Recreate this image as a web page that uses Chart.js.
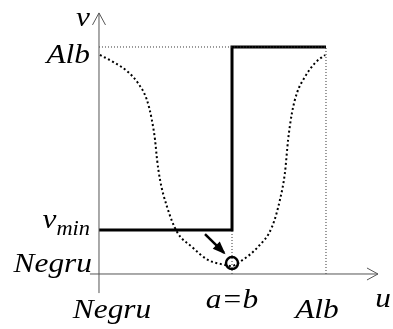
<!DOCTYPE html>
<html>
<head>
<meta charset="utf-8">
<script src="https://cdn.jsdelivr.net/npm/chart.js@4.4.1/dist/chart.umd.min.js"></script>
<style>
  html, body { margin: 0; padding: 0; background: #fff; }
  #c { display: block; }
  .probe { font: italic 28px "Liberation Serif"; position: absolute; left: -999px; }
</style>
</head>
<body>
<span class="probe">Negru Alb</span>
<canvas id="c" width="393" height="329"></canvas>
<script>
/* data (u = input level, v = output level; Negru = 0, Alb = 1) */
const AB = 0.586;      // a = b
const VMIN = 0.194;    // v_min
const ALB = 1;

// transfer step: Negru..a -> v_min, b..Alb -> Alb
const stepU = [0, AB, AB, 1];
const stepV = [VMIN, VMIN, ALB, ALB];

// dotted bell-like curve
const curveU = [0.004, 0.070, 0.128, 0.172, 0.211, 0.233, 0.247, 0.256, 0.269, 0.300, 0.344, 0.410, 0.480, 0.555, 0.586,
                0.612, 0.700, 0.762, 0.797, 0.819, 0.833, 0.850, 0.872, 0.907, 0.952, 0.996];
const curveV = [0.965, 0.930, 0.890, 0.841, 0.767, 0.678, 0.590, 0.502, 0.414, 0.295, 0.185, 0.119, 0.062, 0.040, 0.035,
                0.048, 0.119, 0.207, 0.326, 0.445, 0.590, 0.709, 0.797, 0.868, 0.930, 0.965];

// marked minimum point and the arrow pointing at it
const markU = [AB], markV = [0.048];
const arrowU = [0.467, 0.551], arrowV = [0.176, 0.093];

// axis extents
const axisX = [-0.04, 1.229];
const axisY = [-0.084, 1.150];

const pts = (xs, ys) => xs.map((x, i) => ({ x, y: ys[i] }));

/* text + arrow heads */
const FONT = 'italic 28px "Liberation Serif"';
const SUB = 'italic 20px "Liberation Serif"';

const txt = (ctx, s, x, y, align, font) => {
  ctx.save();
  ctx.font = font || FONT;
  const w = ctx.measureText(s).width * 1.12;
  let left = x;
  if (align === 'right') left = x - w;
  if (align === 'center') left = x - w / 2;
  ctx.translate(left, y);
  ctx.scale(1.12, 1);
  ctx.textAlign = 'left';
  ctx.textBaseline = 'alphabetic';
  ctx.fillText(s, 0, 0);
  ctx.restore();
  return w;
};

const deco = {
  id: 'deco',
  afterDatasetsDraw(chart) {
    const { ctx, scales: { x, y } } = chart;
    const px = v => x.getPixelForValue(v), py = v => y.getPixelForValue(v);
    ctx.save();
    ctx.fillStyle = '#000';

    // open axis arrow heads
    ctx.strokeStyle = '#555';
    ctx.lineWidth = 1;
    ctx.beginPath();
    const tx = px(0), ty = py(axisY[1]);
    ctx.moveTo(tx - 6.5, ty + 12); ctx.lineTo(tx, ty); ctx.lineTo(tx + 6.5, ty + 12);
    const rx = px(axisX[1]), ry = py(0);
    ctx.moveTo(rx - 11, ry - 6); ctx.lineTo(rx, ry); ctx.lineTo(rx - 11, ry + 6);
    ctx.stroke();

    // filled arrow head at the end of the pointer
    const x0 = px(arrowU[0]), y0 = py(arrowV[0]);
    const x1 = px(arrowU[1]), y1 = py(arrowV[1]);
    const a = Math.atan2(y1 - y0, x1 - x0);
    ctx.beginPath();
    ctx.moveTo(x1 + 2 * Math.cos(a), y1 + 2 * Math.sin(a));
    ctx.lineTo(x1 - 11 * Math.cos(a) + 5 * Math.sin(a), y1 - 11 * Math.sin(a) - 5 * Math.cos(a));
    ctx.lineTo(x1 - 11 * Math.cos(a) - 5 * Math.sin(a), y1 - 11 * Math.sin(a) + 5 * Math.cos(a));
    ctx.closePath();
    ctx.fill();

    // y labels
    const yx = px(0) - 9;
    txt(ctx, 'v', yx, py(axisY[1]) + 13, 'right');
    txt(ctx, 'Alb', yx, py(ALB) + 16, 'right');
    const sw = txt(ctx, 'min', yx, py(VMIN) + 5, 'right', SUB);
    txt(ctx, 'v', yx - sw, py(VMIN) - 2, 'right');
    txt(ctx, 'Negru', yx + 2, py(0) - 2, 'right');

    // x labels
    txt(ctx, 'Negru', px(0) + 13, py(0) + 44, 'center');
    txt(ctx, 'a=b', px(AB), py(0) + 34, 'center');
    txt(ctx, 'Alb', px(1) - 9, py(0) + 44, 'center');
    txt(ctx, 'u', px(axisX[1]) + 5, py(0) + 33, 'center');
    ctx.restore();
  }
};

const guide = { borderColor: '#333', borderWidth: 1, borderDash: [1, 2], pointRadius: 0, showLine: true, fill: false };

const draw = () => new Chart(document.getElementById('c'), {
  type: 'scatter',
  data: {
    datasets: [
      { data: pts(axisX, [0, 0]), borderColor: '#555', borderWidth: 1, pointRadius: 0, showLine: true },
      { data: pts([0, 0], axisY), borderColor: '#555', borderWidth: 1, pointRadius: 0, showLine: true },
      { ...guide, data: pts([0, 1], [ALB, ALB]) },
      { ...guide, data: pts([1, 1], [0, ALB]) },
      { ...guide, data: pts([AB, AB], [0, VMIN]) },
      { data: pts(curveU, curveV), borderColor: '#000', borderWidth: 2, borderDash: [2, 2.6],
        pointRadius: 0, showLine: true, cubicInterpolationMode: 'monotone' },
      { data: pts(stepU, stepV), borderColor: '#000', borderWidth: 3, pointRadius: 0, showLine: true,
        borderJoinStyle: 'miter' },
      { data: pts(arrowU, arrowV), borderColor: '#000', borderWidth: 2.5, pointRadius: 0, showLine: true },
      { data: pts(markU, markV), pointRadius: 6, pointBorderWidth: 2.5, pointBorderColor: '#000',
        pointBackgroundColor: 'rgba(0,0,0,0)', showLine: false }
    ]
  },
  options: {
    responsive: false,
    animation: false,
    layout: { padding: 0, autoPadding: false },
    plugins: { legend: { display: false }, tooltip: { enabled: false } },
    scales: {
      x: { type: 'linear', display: false, min: -0.4361, max: 1.2952 },
      y: { type: 'linear', display: false, min: -0.2423, max: 1.2070 }
    }
  },
  plugins: [deco]
});

// make sure the serif face is ready before the canvas text is drawn
Promise.all([document.fonts.load(FONT), document.fonts.load(SUB)]).then(draw, draw);
</script>
</body>
</html>
